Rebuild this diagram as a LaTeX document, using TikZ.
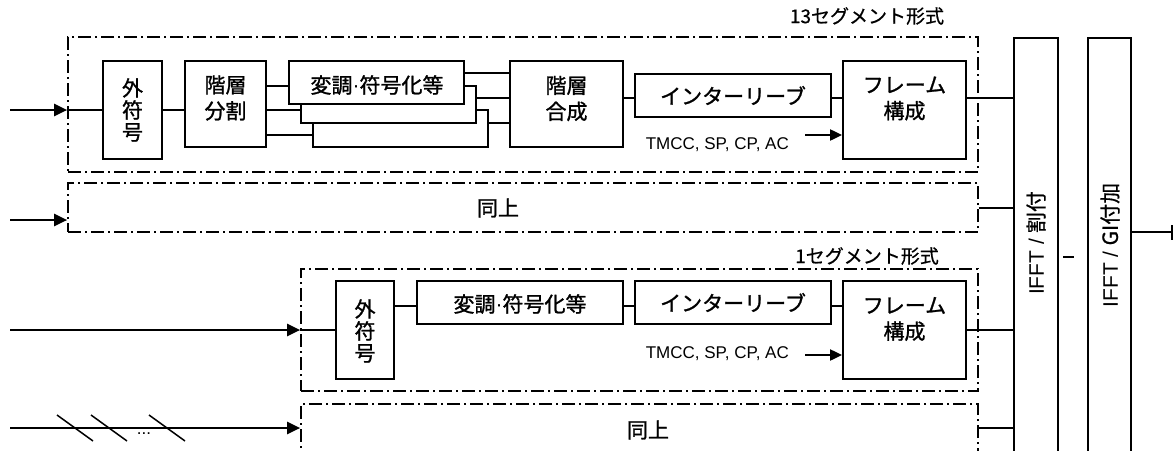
\documentclass[tikz,border=0pt]{standalone}
\usepackage{fontspec}
\setmainfont{Liberation Sans}
\newfontfamily\jp{Noto Sans CJK JP}[FakeBold=1.2]
\newfontfamily\jpl{Noto Sans CJK JP}[FakeBold=0.6]
\usetikzlibrary{arrows.meta}
\begin{document}
\begin{tikzpicture}[x=1pt,y=-1pt,
  blk/.style={draw, line width=1.8pt, fill=white, inner sep=0pt},
  segbox/.style={draw, line width=1.7pt, dash pattern=on 13pt off 4pt on 2pt off 4pt, inner sep=0pt},
  wire/.style={line width=1.5pt},
  arr/.style={line width=2.2pt, -{Triangle[length=13pt,width=12pt]}},
  jptxt/.style={font=\jp\fontsize{21}{26}\selectfont, inner sep=0pt, align=center},
  vtxt/.style={font=\jp\fontsize{21}{22}\selectfont, inner sep=0pt, align=center},
  labtxt/.style={font=\jpl\fontsize{19}{21}\selectfont, inner sep=0pt},
  bigtxt/.style={font=\jp\fontsize{21}{23}\selectfont, inner sep=0pt},
  smalltxt/.style={font=\fontsize{17}{19}\selectfont, inner sep=0pt},
  ifft/.style={draw, line width=1.8pt, inner sep=0pt}]
\useasboundingbox (0,0) rectangle (1174,450);
\clip (0,0) rectangle (1174,450);

% ---------- dash-dot segment boxes ----------
\node[segbox, minimum width=910pt, minimum height=135pt] (S1) at (523,104.5) {};
\node[segbox, minimum width=910pt, minimum height=49pt] (S2) at (523,207.5) {};
\node[segbox, minimum width=677pt, minimum height=122pt] (S3) at (639.5,330) {};
\node[segbox, minimum width=677pt, minimum height=70pt] (S4) at (639.5,439) {};

\node[labtxt] (L1) at (867,16) {13セグメント形式};
\node[labtxt] (L2) at (867,256) {1セグメント形式};
\node[bigtxt] (D1) at (498,208) {同上};
\node[bigtxt] (D2) at (648,430) {同上};

% ---------- IFFT columns ----------
\node[ifft, minimum width=44pt, minimum height=440pt, anchor=north] (IF1) at (1036,37) {};
\node[ifft, minimum width=43pt, minimum height=440pt, anchor=north] (IF2) at (1109.5,37) {};
\node[rotate=90, font=\fontsize{21}{23}\selectfont, inner sep=0pt] (T1) at (1036,243) {IFFT / {\jpl 割付}};
\node[rotate=90, font=\fontsize{21}{23}\selectfont, inner sep=0pt] (T2) at (1110,245) {IFFT / {\jpl GI付加}};

% ---------- 13-segment chain ----------
\node[blk, minimum width=59pt, minimum height=98pt] (A1) at (132.5,110) {};
\node[vtxt] (A1t) at (A1) {外\\符\\号};
\node[blk, minimum width=81pt, minimum height=86pt] (B1) at (225.5,104) {};
\node[jptxt] (B1t) at (225.5,98) {階層\\分割};
\node[blk, minimum width=175pt, minimum height=37pt] (M3) at (400.5,128.5) {};
\node[blk, minimum width=175pt, minimum height=37pt] (M2) at (388.5,104.5) {};
\node[blk, minimum width=175pt, minimum height=43pt] (M1) at (376.5,82.5) {};
\node[jptxt] (M1t) at (377,85) {変調{\fontspec{Liberation Sans}·}符号化等};
\node[blk, minimum width=113pt, minimum height=86pt] (C1) at (566.5,104) {};
\node[jptxt] (C1t) at (566.5,98.5) {階層\\合成};
\node[blk, minimum width=196pt, minimum height=43pt] (I1) at (733,95.5) {};
\node[jptxt] (I1t) at (I1) {インターリーブ};
\node[blk, minimum width=123pt, minimum height=98pt] (F1) at (904.5,110) {};
\node[jptxt] (F1t) at (904.5,98.5) {フレーム\\構成};
\node[smalltxt, anchor=east] (TM1) at (789,145) {TMCC, SP, CP, AC};

% ---------- 1-segment chain ----------
\node[blk, minimum width=58pt, minimum height=98pt] (A2) at (365,330) {};
\node[vtxt] (A2t) at (365,331) {外\\符\\号};
\node[blk, minimum width=206pt, minimum height=43pt] (M4) at (520,302.5) {};
\node[jptxt] (M4t) at (520,304) {変調{\fontspec{Liberation Sans}·}符号化等};
\node[blk, minimum width=196pt, minimum height=43pt] (I2) at (733,302.5) {};
\node[jptxt] (I2t) at (I2) {インターリーブ};
\node[blk, minimum width=123pt, minimum height=98pt] (F2) at (904.5,330) {};
\node[jptxt] (F2t) at (904.5,319) {フレーム\\構成};
\node[smalltxt, anchor=east] (TM2) at (789,354) {TMCC, SP, CP, AC};

% ---------- input arrows ----------
\coordinate (in1) at (10,110);
\coordinate (in2) at (10,220);
\coordinate (in3) at (10,330);
\coordinate (in4) at (10,428);
\draw[arr] (in1) -- (in1 -| S1.west);
\draw[arr] (in2) -- (in2 -| S2.west);
\draw[arr] (in3) -- (in3 -| S3.west);
\draw[arr] (in4) -- (in4 -| S4.west);
\draw[wire] (S1.west |- A1) -- (A1.west);
\draw[wire] (S3.west |- A2) -- (A2.west);

% slashes on the last input
\draw[wire] (57,415) -- (93,441);
\draw[wire] (91,415) -- (127,441);
\draw[wire] (149,415) -- (185,441);
\node[font=\fontsize{17}{19}\selectfont, inner sep=0pt, anchor=base] (dots) at (144,434) {...};

% ---------- 13-segment wires ----------
\draw[wire] (A1.east) -- (B1.west |- A1.east);
\draw[wire] (B1.east |- 0,86) -- (M1.west |- 0,86);
\draw[wire] (B1.east |- 0,110) -- (M2.west |- 0,110);
\draw[wire] (B1.east |- 0,135) -- (M3.west |- 0,135);
\draw[wire] (M1.east |- 0,73) -- (C1.west |- 0,73);
\draw[wire] (M2.east |- 0,98) -- (C1.west |- 0,98);
\draw[wire] (M3.east |- 0,123) -- (C1.west |- 0,123);
\draw[wire] (C1.east |- 0,98) -- (I1.west |- 0,98);
\draw[wire] (I1.east |- 0,98) -- (F1.west |- 0,98);
\draw[wire] (F1.east |- 0,98) -- (IF1.west |- 0,98);
\draw[line width=2pt, -{Triangle[length=12pt,width=11pt]}] (805,135) -- (F1.west |- 0,135);
\draw[wire] (S2.east |- 0,208) -- (IF1.west |- 0,208);

% ---------- 1-segment wires ----------
\draw[wire] (A2.east |- 0,306) -- (M4.west |- 0,306);
\draw[wire] (M4.east |- 0,306) -- (I2.west |- 0,306);
\draw[wire] (I2.east |- 0,306) -- (F2.west |- 0,306);
\draw[wire] (F2.east) -- (IF1.west |- F2.east);
\draw[line width=2pt, -{Triangle[length=12pt,width=11pt]}] (805,355) -- (F2.west |- 0,355);
\draw[wire] (S4.east |- 0,428) -- (IF1.west |- 0,428);

% ---------- between and after the IFFT columns ----------
\draw[wire] (1063,257) -- (1074,257);
\coordinate (outEnd) at (1172,232);
\draw[wire] (IF2.east |- outEnd) -- (outEnd);
\draw[wire] (1172,225) -- (1172,240);
\end{tikzpicture}
\end{document}
